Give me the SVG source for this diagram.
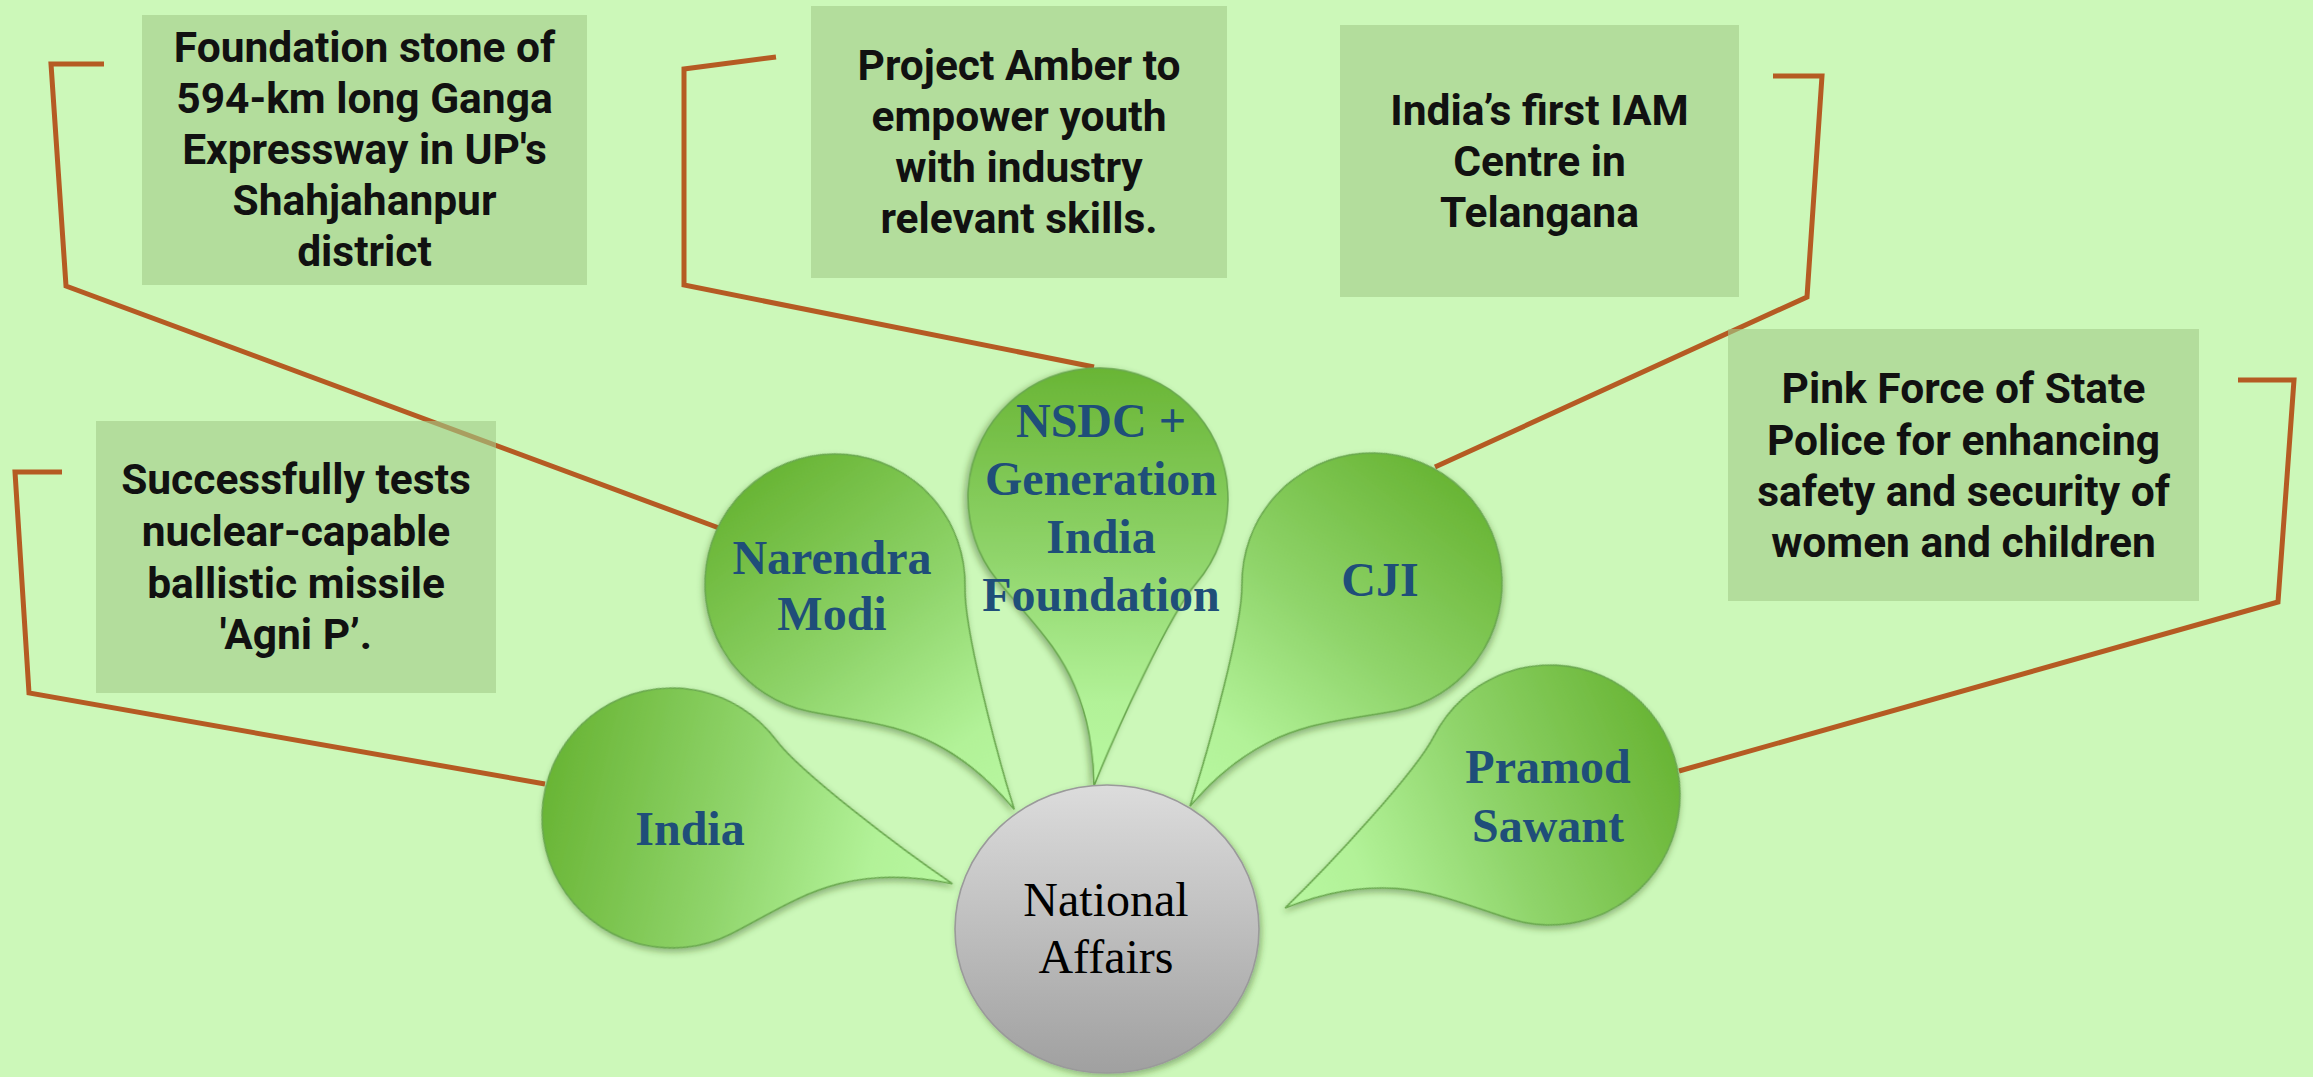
<svg xmlns="http://www.w3.org/2000/svg" width="2313" height="1077" viewBox="0 0 2313 1077">
<defs>
<style>
.conn{fill:none;stroke:#b55b23;stroke-width:5;stroke-linejoin:miter}
.box{fill:rgb(162,203,137);fill-opacity:0.6}
.bt{font-family:Roboto,"Liberation Sans",sans-serif;font-weight:700;font-size:42.5px;fill:#111;text-anchor:middle}
.petal{fill:url(#pg);stroke:#6aa84f;stroke-width:1.6}
.pt{font-family:"Liberation Serif","Times New Roman",serif;font-weight:700;font-size:48px;fill:#1f4e79;text-anchor:middle}
.ct{font-family:"Liberation Serif","Times New Roman",serif;font-size:48px;fill:#000;text-anchor:middle}
</style>
<linearGradient id="pg" x1="0" y1="0" x2="1" y2="0">
<stop offset="0" stop-color="#69b535"/>
<stop offset="0.45" stop-color="#8fd46a"/>
<stop offset="0.8" stop-color="#b2f298"/>
<stop offset="1" stop-color="#b8f7a0"/>
</linearGradient>
<linearGradient id="cg" x1="0" y1="0" x2="0" y2="1">
<stop offset="0" stop-color="#dcdcdc"/>
<stop offset="1" stop-color="#a0a0a0"/>
</linearGradient>
<filter id="sh" x="-20%" y="-20%" width="140%" height="140%">
<feDropShadow dx="2" dy="3" stdDeviation="3" flood-color="#2d5016" flood-opacity="0.4"/>
</filter>
<path id="drop" d="M288 0 C175 3 137.2 54.6 83.6 99.6 A130 130 0 1 1 83.6 -99.6 C114.2 -73.9 230 -22 288 0 Z"/>
</defs>
<rect x="0" y="0" width="2313" height="1077" fill="#ccf8b9"/>
<g id="connectors">
<path class="conn" d="M104 64 L51 64 L66 286 L719 528"/>
<path class="conn" d="M776 57 L684 69 L684 285 L1094 367"/>
<path class="conn" d="M1773 76 L1822 76 L1807 297 L1435 467"/>
<path class="conn" d="M2238 380 L2294 380 L2278 602 L1679 771"/>
<path class="conn" d="M62 472 L15 472 L29 693 L545 784"/>
</g>
<g id="box-foundation">
<rect class="box" x="142" y="15" width="445" height="270"/>
<text class="bt"><tspan x="364.5" y="62">Foundation stone of</tspan><tspan x="364.5" y="113">594-km long Ganga</tspan><tspan x="364.5" y="164">Expressway in UP's</tspan><tspan x="364.5" y="215">Shahjahanpur</tspan><tspan x="364.5" y="266">district</tspan></text>
</g>
<g id="box-amber">
<rect class="box" x="811" y="6" width="416" height="272"/>
<text class="bt"><tspan x="1019" y="80">Project Amber to</tspan><tspan x="1019" y="131">empower youth</tspan><tspan x="1019" y="182">with industry</tspan><tspan x="1019" y="233">relevant skills.</tspan></text>
</g>
<g id="box-iam">
<rect class="box" x="1340" y="25" width="399" height="272"/>
<text class="bt"><tspan x="1539.5" y="125">India’s first IAM</tspan><tspan x="1539.5" y="176">Centre in</tspan><tspan x="1539.5" y="227">Telangana</tspan></text>
</g>
<g id="box-pink">
<rect class="box" x="1728" y="329" width="471" height="272"/>
<text class="bt"><tspan x="1963.5" y="403">Pink Force of State</tspan><tspan x="1963.5" y="455">Police for enhancing</tspan><tspan x="1963.5" y="506">safety and security of</tspan><tspan x="1963.5" y="557">women and children</tspan></text>
</g>
<g id="box-agni">
<rect class="box" x="96" y="421" width="400" height="272"/>
<text class="bt"><tspan x="296" y="494">Successfully tests</tspan><tspan x="296" y="546">nuclear-capable</tspan><tspan x="296" y="598">ballistic missile</tspan><tspan x="296" y="649">'Agni P’.</tspan></text>
</g>
<g id="petal-india">
<use href="#drop" class="petal" filter="url(#sh)" transform="translate(672 818) rotate(13.2)"/>
<text class="pt" x="690" y="845">India</text>
</g>
<g id="petal-modi">
<use href="#drop" class="petal" filter="url(#sh)" transform="translate(835 584) rotate(51.5)"/>
<text class="pt"><tspan x="832" y="574">Narendra</tspan><tspan x="832" y="630">Modi</tspan></text>
</g>
<g id="petal-nsdc">
<use href="#drop" class="petal" filter="url(#sh)" transform="translate(1098 498) rotate(90.8)"/>
<text class="pt"><tspan x="1101" y="437">NSDC +</tspan><tspan x="1101" y="495">Generation</tspan><tspan x="1101" y="553">India</tspan><tspan x="1101" y="611">Foundation</tspan></text>
</g>
<g id="petal-cji">
<use href="#drop" class="petal" filter="url(#sh)" transform="translate(1372 583) rotate(129.2) scale(1 -1)"/>
<text class="pt" x="1380" y="596">CJI</text>
</g>
<g id="petal-sawant">
<use href="#drop" class="petal" filter="url(#sh)" transform="translate(1550 795) rotate(156.9) scale(1 -1)"/>
<text class="pt"><tspan x="1548" y="783">Pramod</tspan><tspan x="1548" y="842">Sawant</tspan></text>
</g>
<g id="center">
<ellipse cx="1107" cy="929" rx="152" ry="144" fill="url(#cg)" stroke="#9a9a9a" stroke-width="1.6" filter="url(#sh)"/>
<text class="ct"><tspan x="1106" y="916">National</tspan><tspan x="1106" y="973">Affairs</tspan></text>
</g>
</svg>
